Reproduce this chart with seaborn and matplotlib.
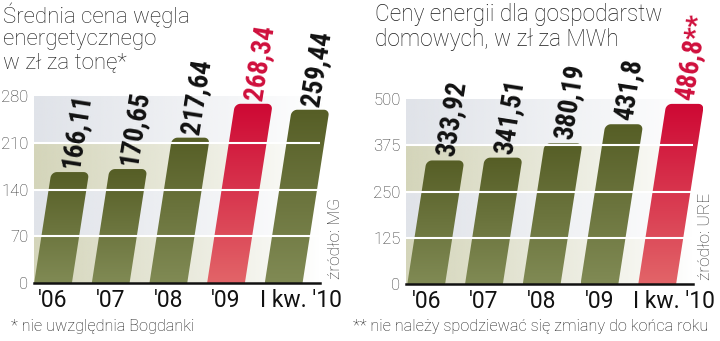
import numpy as np
import matplotlib
matplotlib.use("Agg")
import matplotlib.pyplot as plt
from matplotlib.patches import Polygon
from matplotlib import font_manager as fm
from matplotlib.transforms import ScaledTranslation
import seaborn as sns

# ---- data ----
years = ["'06", "'07", "'08", "'09", "I kw. '10"]
coal_prices = [166.11, 170.65, 217.64, 268.34, 259.44]       # zł / t
energy_prices = [333.92, 341.51, 380.19, 431.8, 486.8]       # zł / MWh
coal_ticks = [0, 70, 140, 210, 280]
energy_ticks = [0, 125, 250, 375, 500]
coal_highlight = 3
energy_highlight = 4
energy_suffix = ["", "", "", "", "**"]

coal_title = "Średnia cena węgla\nenergetycznego\nw zł za tonę*"
energy_title = "Ceny energii dla gospodarstw\ndomowych, w zł za MWh"
coal_note = "* nie uwzględnia Bogdanki"
energy_note = "** nie należy spodziewać się zmiany do końca roku"
coal_source = "źródło: MG"
energy_source = "źródło: URE"

# ---- style ----
sns.set_style("white")
available = {f.name for f in fm.fontManager.ttflist}


def pick(cands, default="DejaVu Sans"):
    for c in cands:
        if c in available:
            return c
    return default


LIGHT = pick(["Roboto", "Lato", "Open Sans"])
COND = pick(["Roboto Condensed", "Liberation Sans Narrow", "DejaVu Sans"])
COND_STRETCH = "condensed" if COND == "DejaVu Sans" else "normal"
plt.rcParams["font.family"] = [LIGHT, "DejaVu Sans"]

OLIVE_TOP = np.array([86, 94, 38]) / 255
OLIVE_BOT = np.array([128, 138, 84]) / 255
RED_TOP = np.array([206, 8, 52]) / 255
RED_BOT = np.array([226, 100, 104]) / 255
RED_TEXT = "#cf0f3c"
BEIGE = np.array([212, 213, 186]) / 255
BLUEGREY = np.array([224, 227, 233]) / 255

SHEAR = 0.155  # horizontal px per vertical px
fig = plt.figure(figsize=(7.2, 3.41), dpi=100)


def band_image(ax, lo, hi, color, x0, x1):
    n = 200
    rgba = np.zeros((1, n, 4))
    rgba[..., :3] = color
    rgba[..., 3] = np.linspace(1.0, 0.0, n) ** 0.9
    ax.imshow(rgba, extent=(x0, x1, lo, hi), origin="lower", aspect="auto",
              zorder=0, interpolation="bilinear")


def slanted_bar(ax, rect, top, bot, radius=5.5):
    x0, w, h = rect.get_x(), rect.get_width(), rect.get_height()
    T = ax.transData
    xl, yb = T.transform((x0, 0))
    xr, yt = T.transform((x0 + w, h))
    pts = [(xl, yb), (xr, yb)]
    for a in np.linspace(0, np.pi / 2, 10):
        pts.append((xr - radius + radius * np.cos(a), yt - radius + radius * np.sin(a)))
    for a in np.linspace(np.pi / 2, np.pi, 10):
        pts.append((xl + radius + radius * np.cos(a), yt - radius + radius * np.sin(a)))
    pts = np.array(pts)
    pts[:, 0] += SHEAR * (pts[:, 1] - yb)
    dpts = T.inverted().transform(pts)
    poly = Polygon(dpts, closed=True, facecolor="none", edgecolor="none")
    ax.add_patch(poly)
    m = 64
    t = np.linspace(0, 1, m)[:, None]
    grad = (bot[None, :] * (1 - t) + top[None, :] * t)[:, None, :]
    im = ax.imshow(grad, extent=(dpts[:, 0].min(), dpts[:, 0].max(), 0, h),
                   origin="lower", aspect="auto", zorder=2, interpolation="bilinear")
    im.set_clip_path(poly)
    im.set_clip_box(fig.bbox)
    rect.set_visible(False)
    # anchor point for the value label: continuation of the slanted centre line
    gap = 4
    cx = (xl + xr) / 2 + SHEAR * (yt - yb + gap)
    return T.inverted().transform((cx, yt + gap))


def panel(ax, values, ticks, highlight, suffixes, xlim):
    sns.barplot(x=years, y=values, ax=ax, width=0.655, color="#777", saturation=1)
    ax.set_xlim(*xlim)
    ax.set_ylim(0, ticks[-1])
    ax.set_autoscale_on(False)
    for i, (lo, hi) in enumerate(zip(ticks[:-1], ticks[1:])):
        band_image(ax, lo, hi, BEIGE if i % 2 == 0 else BLUEGREY, xlim[0], xlim[1])
    bars = [p for p in ax.patches]
    for i, (rect, v) in enumerate(zip(bars, values)):
        hl = i == highlight
        anchor = slanted_bar(ax, rect, RED_TOP if hl else OLIVE_TOP,
                             RED_BOT if hl else OLIVE_BOT)
        label = ("%g" % v).replace(".", ",") + suffixes[i]
        ax.text(anchor[0], anchor[1], label, rotation=81, rotation_mode="anchor",
                ha="left", va="center", fontsize=19.5, fontweight="bold",
                family=COND, fontstretch=COND_STRETCH,
                color=RED_TEXT if hl else "#111111", zorder=5)
    for t in ticks[1:-1]:
        ax.axhline(t, color="white", lw=1.5, zorder=3)
    ax.set_yticks(ticks)
    ax.set_yticklabels([str(t) for t in ticks])
    ax.set_xlabel("")
    ax.set_ylabel("")
    ax.tick_params(axis="y", length=0, pad=4, labelsize=12, labelcolor="#333333")
    ax.tick_params(axis="x", length=0, pad=4, labelsize=16.5, labelcolor="#111111")
    for lab in ax.get_yticklabels():
        lab.set_fontweight("light")
    # the long quarter label sits a little to the right of its bar
    last = ax.get_xticklabels()[-1]
    last.set_transform(last.get_transform() + ScaledTranslation(17 / 100, 0, fig.dpi_scale_trans))
    for s in ("top", "right", "left"):
        ax.spines[s].set_visible(False)
    ax.spines["bottom"].set_color("#111111")
    ax.spines["bottom"].set_linewidth(1.8)
    ax.spines["bottom"].set_zorder(4)
    ax.set_facecolor("white")


ax1 = fig.add_axes([34 / 720, 58 / 341, 286 / 720, 187 / 341])
ax2 = fig.add_axes([406 / 720, 57 / 341, 287 / 720, 185 / 341])
panel(ax1, coal_prices, coal_ticks, coal_highlight, [""] * 5, (-0.33, 4.63))
panel(ax2, energy_prices, energy_ticks, energy_highlight, energy_suffix, (-0.35, 4.62))

fig.text(3 / 720, 1 - 2 / 341, coal_title, ha="left", va="top", fontsize=16,
         fontweight="light", linespacing=1.12, color="#1a1a1a")
fig.text(375 / 720, 1 - 3 / 341, energy_title, ha="left", va="top", fontsize=16.3,
         fontweight="light", linespacing=1.1, color="#1a1a1a")
fig.text(11 / 720, 1 - 326 / 341, coal_note, ha="left", va="center", fontsize=11.7,
         fontweight="light", color="#1a1a1a")
fig.text(353 / 720, 1 - 326 / 341, energy_note, ha="left", va="center", fontsize=11.7,
         fontweight="light", color="#1a1a1a")
fig.text(336 / 720, 1 - 279 / 341, coal_source, rotation=90, ha="center", va="bottom",
         fontsize=12.5, fontweight="light", color="#333333")
fig.text(705 / 720, 1 - 280 / 341, energy_source, rotation=90, ha="center", va="bottom",
         fontsize=12.5, fontweight="light", color="#333333")

fig.savefig("out.png", dpi=100)
